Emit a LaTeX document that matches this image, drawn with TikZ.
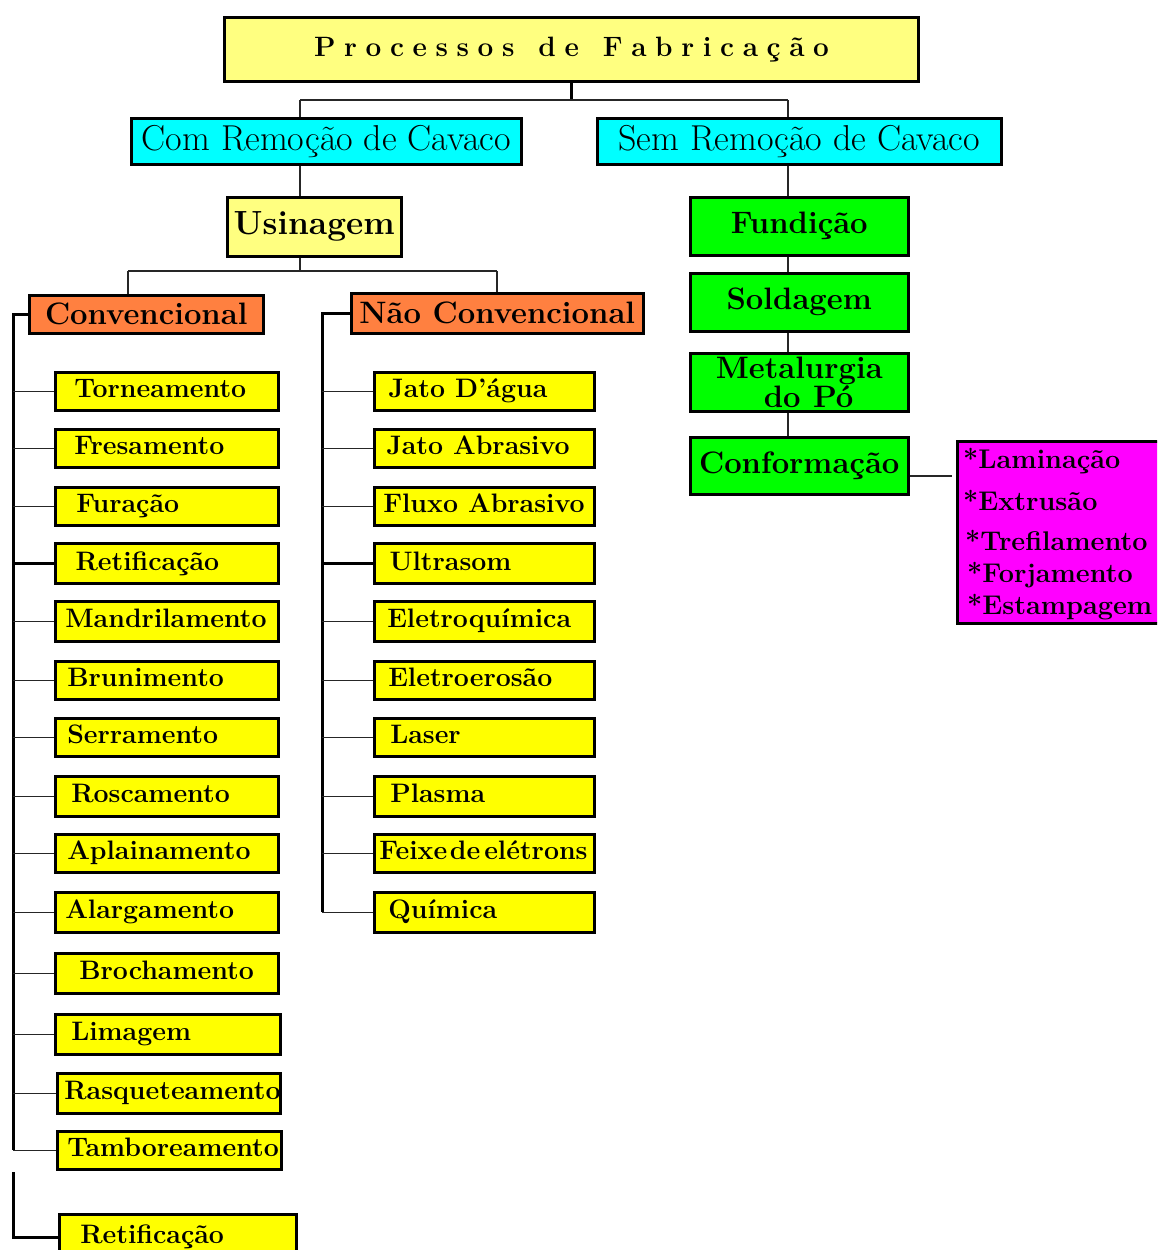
\documentclass[tikz,border=0pt]{standalone}
\usepackage{fontspec}
\definecolor{lyel}{RGB}{255,255,128}
\definecolor{yel}{RGB}{255,255,0}
\definecolor{cya}{RGB}{0,255,255}
\definecolor{ora}{RGB}{255,128,64}
\definecolor{grn}{RGB}{0,255,0}
\definecolor{mag}{RGB}{255,0,255}
\newcommand\boxtxt[3]{\makebox[#1pt][l]{\hspace*{#2pt}#3}}
\newcommand\lsp{\hspace{8.6pt}}
\newcommand\wsp{\hspace{24pt}}
\newcommand\heavy{\addfontfeature{FakeBold=1.3}}
\tikzset{
  bx/.style={draw=black, line width=2.5pt, inner sep=0pt, anchor=north west},
  item/.style={bx, fill=yel, font=\fontsize{26.7}{30}\selectfont\bfseries\heavy, text height=18.5pt, text depth=5.5pt},
  gbox/.style={bx, fill=grn, minimum width=218pt, font=\fontsize{31}{27}\selectfont\bfseries\heavy},
  cbox/.style={bx, fill=cya, minimum height=46pt, font=\fontsize{36}{40}\selectfont\addfontfeature{FakeBold=1.2}},
  obox/.style={bx, fill=ora, font=\fontsize{31}{34}\selectfont\bfseries\heavy},
  mtxt/.style={anchor=west, inner sep=0pt, font=\fontsize{27}{30}\selectfont\bfseries\heavy},
  conn/.style={draw=black!85, line width=1.5pt},
  trunk/.style={draw=black, line width=3pt},
}
\begin{document}
\begin{tikzpicture}[x=1pt,y=-1pt]
\fill[white] (0,0) rectangle (1157,1250);
\clip (0,0) rectangle (1157,1250);
% top
\node[bx, line width=3pt, fill=lyel, minimum width=694pt, minimum height=64pt,
  font=\fontsize{28}{30}\selectfont\bfseries\heavy] (title) at (223,16)
  {P\lsp r\lsp o\lsp c\lsp e\lsp s\lsp s\lsp o\lsp s\wsp d\lsp e\wsp F\lsp a\lsp b\lsp r\lsp i\lsp c\lsp a\lsp ç\lsp ã\lsp o};
\node[cbox, minimum width=390pt] (com) at (130,117) {Com Remoção de Cavaco};
\node[cbox, minimum width=404pt] (sem) at (596,117) {Sem Remoção de Cavaco};
\node[bx, fill=lyel, minimum width=174pt, minimum height=59pt, font=\fontsize{33.5}{36}\selectfont\bfseries\heavy] (us) at (226,196) {Usinagem};
\node[obox, minimum width=234pt, minimum height=38pt] (conv) at (28,294) {Convencional};
\node[obox, minimum width=292pt, minimum height=40pt] (nconv) at (350,292) {Não Convencional};
% left items
\node[item, minimum height=38pt] (tor) at (54,371) {\boxtxt{223}{19}{Torneamento}};
\node[item, minimum height=38pt] (fre) at (54,428) {\boxtxt{223}{19}{Fresamento}};
\node[item, minimum height=38pt] (fur) at (54,486) {\boxtxt{223}{21}{Furação}};
\node[item, minimum height=40pt, line width=3pt] (ret) at (54,542) {\boxtxt{223}{20}{Retificação}};
\node[item, minimum height=40pt] (man) at (54,600) {\boxtxt{223}{10}{Mandrilamento}};
\node[item, minimum height=38pt] (bru) at (54,660) {\boxtxt{223}{12}{Brunimento}};
\node[item, minimum height=38pt] (ser) at (54,717) {\boxtxt{223}{12}{Serramento}};
\node[item, minimum height=40pt] (ros) at (54,775) {\boxtxt{223}{16}{Roscamento}};
\node[item, minimum height=38pt] (apl) at (54,833) {\boxtxt{223}{12}{Aplainamento}};
\node[item, minimum height=40pt] (ala) at (54,891) {\boxtxt{223}{10}{Alargamento}};
\node[item, minimum height=40pt] (bro) at (54,952) {\boxtxt{223}{24}{Brochamento}};
\node[item, minimum height=40pt] (lim) at (54,1013) {\boxtxt{225}{16}{Limagem}};
\node[item, minimum height=40pt] (ras) at (56,1072) {\boxtxt{223}{7}{Rasqueteamento}};
\node[item, minimum height=38pt] (tam) at (56,1130) {\boxtxt{224}{10}{Tamboreamento}};
\node[item, minimum height=46pt] (ret2) at (58,1213) {\boxtxt{237}{21}{Retificação}};
% right items
\node[item, minimum height=38pt] (jag) at (373,371) {\boxtxt{220}{14}{Jato D'água}};
\node[item, minimum height=38pt] (jab) at (373,428) {\boxtxt{220}{12}{Jato Abrasivo}};
\node[item, minimum height=38pt] (flu) at (373,486) {\boxtxt{220}{9}{Fluxo Abrasivo}};
\node[item, minimum height=40pt, line width=3pt] (ult) at (373,542) {\boxtxt{220}{15}{Ultrasom}};
\node[item, minimum height=40pt] (ele) at (373,600) {\boxtxt{220}{13}{Eletroquímica}};
\node[item, minimum height=38pt] (ero) at (373,660) {\boxtxt{220}{14}{Eletroerosão}};
\node[item, minimum height=38pt] (las) at (373,717) {\boxtxt{220}{16}{Laser}};
\node[item, minimum height=40pt] (pla) at (373,775) {\boxtxt{220}{16}{Plasma}};
\node[item, minimum height=38pt] (fei) at (373,833) {\boxtxt{220}{5}{Feixe\hspace{0.1em}de\hspace{0.15em}elétrons}};
\node[item, minimum height=40pt] (qui) at (373,891) {\boxtxt{220}{14}{Química}};
% green
\node[gbox, minimum height=58pt] (fun) at (689,196) {Fundição};
\node[gbox, minimum height=58pt] (sol) at (689,272) {Soldagem};
\node[gbox, minimum height=58pt, align=center] (met) at (689,352) {Metalurgia\\\hspace*{0.6em}do\hspace{0.4em}Pó};
\node[gbox, minimum height=57pt] (cnf) at (689,436) {Conformação};
% magenta
\node[bx, fill=mag, minimum width=210pt, minimum height=182pt] (mg) at (956,440) {};
\node[mtxt] (m1) at (963,461) {*Laminação};
\node[mtxt] (m2) at (963,500) {*Extrusão};
\node[mtxt] (m3) at (965,540) {*Trefilamento};
\node[mtxt] (m4) at (967,575) {*Forjamento};
\node[mtxt] (m5) at (967,607) {*Estampagem};
% connectors top
\coordinate (tj) at (570,100);
\coordinate (cj) at (300,100);
\coordinate (sj) at (788,100);
\draw[trunk] (title.south) -- (title.south |- tj);
\draw[conn] (cj) -- (sj);
\draw[conn] (cj) -- (cj |- com.north);
\draw[conn] (sj) -- (sj |- sem.north);
\draw[conn] (com.south -| cj) -- (us.north -| cj);
\coordinate (uj) at (300,271);
\coordinate (ucl) at (128,271);
\coordinate (ucr) at (497,271);
\draw[conn] (us.south -| uj) -- (uj);
\draw[conn] (ucl) -- (ucr);
\draw[conn] (ucl) -- (ucl |- conv.north);
\draw[conn] (ucr) -- (ucr |- nconv.north);
% left trunk
\coordinate (lt) at (13,312);
\draw[trunk] (conv.west) -| (lt |- tam.west);
\foreach \n in {tor,fre,fur,man,bru,ser,ros,apl,ala,bro,lim,ras,tam}
  \draw[conn] (lt |- \n.west) -- (\n.west);
\draw[trunk] (lt |- ret.west) -- (ret.west);
\coordinate (lb) at (13,1172);
\draw[trunk] (lb) |- (ret2.west);
% right trunk
\coordinate (rt) at (322,312);
\draw[trunk] (nconv.west) -| (rt |- qui.west);
\foreach \n in {jag,jab,flu,ele,ero,las,pla,fei,qui}
  \draw[conn] (rt |- \n.west) -- (\n.west);
\draw[trunk] (rt |- ult.west) -- (ult.west);
% green connectors
\coordinate (gx) at (788,0);
\draw[conn] (sem.south -| gx) -- (fun.north -| gx);
\draw[conn] (fun.south -| gx) -- (sol.north -| gx);
\draw[conn] (sol.south -| gx) -- (met.north -| gx);
\draw[conn] (met.south -| gx) -- (cnf.north -| gx);
\draw[conn, shorten >=4pt] ([yshift=-10pt]cnf.east) -- ([yshift=-10pt]cnf.east -| mg.west);
\end{tikzpicture}
\end{document}
